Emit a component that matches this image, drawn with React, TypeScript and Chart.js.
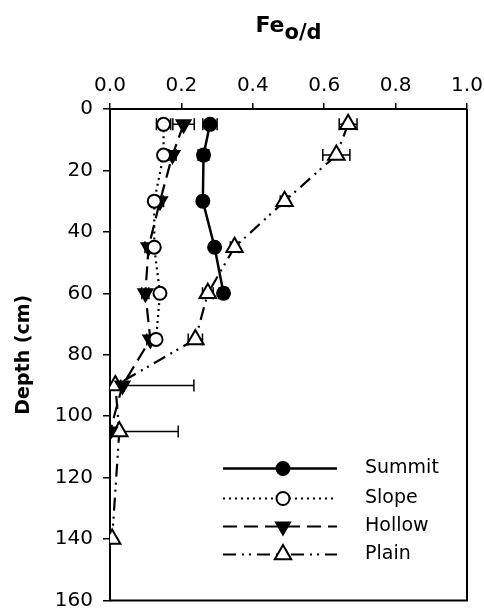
import React, { useEffect, useRef } from 'react';
import { Chart, registerables } from 'chart.js';

Chart.register(...registerables);

// ---- Data ----
const summitDepth = [5, 15, 30, 45, 60];
const summitFe = [0.28, 0.262, 0.26, 0.293, 0.318];
const summitErr = [0.02, 0.015, 0.01, 0.01, 0.012];

const slopeDepth = [5, 15, 30, 45, 60, 75];
const slopeFe = [0.15, 0.15, 0.124, 0.124, 0.14, 0.129];
const slopeErr = [0.02, 0.01, 0.01, 0.008, 0.008, 0.008];

const hollowDepth = [5, 15, 30, 45, 60, 75, 90, 105];
const hollowFe = [0.206, 0.175, 0.14, 0.108, 0.099, 0.113, 0.035, 0.0];
const hollowErr = [0.03, 0.01, 0.01, 0.01, 0.01, 0.01, 0.005, 0.005];

const plainDepth = [5, 15, 30, 45, 60, 75, 90, 105, 140];
const plainFe = [0.667, 0.634, 0.489, 0.349, 0.274, 0.239, 0.015, 0.026, 0.006];
const plainErr = [0.025, 0.038, 0.012, 0.012, 0.015, 0.02, 0.22, 0.165, 0];

const seriesLabels = ['Summit', 'Slope', 'Hollow', 'Plain'];
const xTitleMain = 'Fe';
const xTitleSub = 'o/d';
const yTitle = 'Depth (cm)';

const FONT = '"DejaVu Sans", Verdana, sans-serif';

function pts(xs: number[], ys: number[]) {
  return xs.map((v, i) => ({ x: v, y: ys[i] }));
}

function drawMarker(ctx: CanvasRenderingContext2D, style: string, rot: number, x: number, y: number, r: number, fill: string) {
  ctx.beginPath();
  if (style === 'circle') {
    ctx.arc(x, y, r, 0, Math.PI * 2);
  } else {
    let rad = (rot * Math.PI) / 180;
    ctx.moveTo(x + Math.sin(rad) * r, y - Math.cos(rad) * r);
    rad += (2 * Math.PI) / 3;
    ctx.lineTo(x + Math.sin(rad) * r, y - Math.cos(rad) * r);
    rad += (2 * Math.PI) / 3;
    ctx.lineTo(x + Math.sin(rad) * r, y - Math.cos(rad) * r);
    ctx.closePath();
  }
  ctx.fillStyle = fill;
  ctx.fill();
  ctx.setLineDash([]);
  ctx.lineWidth = 2;
  ctx.strokeStyle = '#000';
  ctx.stroke();
}

const errorBarPlugin = {
  id: 'errorBars',
  beforeDatasetsDraw(chart: any) {
    const { ctx, chartArea } = chart;
    const xs = chart.scales.x;
    const ys = chart.scales.y;
    ctx.save();
    ctx.beginPath();
    ctx.rect(chartArea.left, chartArea.top - 10, chartArea.right - chartArea.left, chartArea.bottom - chartArea.top + 20);
    ctx.clip();
    ctx.strokeStyle = '#000';
    ctx.lineWidth = 1.5;
    ctx.setLineDash([]);
    chart.data.datasets.forEach((ds: any) => {
      const errs: number[] = ds.errors || [];
      ds.data.forEach((p: any, i: number) => {
        const e = errs[i];
        if (!e) return;
        const x1 = xs.getPixelForValue(p.x - e);
        const x2 = xs.getPixelForValue(p.x + e);
        const y = ys.getPixelForValue(p.y);
        ctx.beginPath();
        ctx.moveTo(x1, y);
        ctx.lineTo(x2, y);
        ctx.moveTo(x1, y - 6);
        ctx.lineTo(x1, y + 6);
        ctx.moveTo(x2, y - 6);
        ctx.lineTo(x2, y + 6);
        ctx.stroke();
      });
    });
    ctx.restore();
  },
};

const framePlugin = {
  id: 'frameAndText',
  afterDraw(chart: any) {
    const { ctx, chartArea } = chart;
    ctx.save();
    // frame right & bottom
    ctx.strokeStyle = '#000';
    ctx.lineWidth = 2;
    ctx.setLineDash([]);
    ctx.beginPath();
    ctx.moveTo(chartArea.left, chartArea.bottom);
    ctx.lineTo(chartArea.right, chartArea.bottom);
    ctx.lineTo(chartArea.right, chartArea.top);
    ctx.stroke();

    // x title with subscript
    const cx = (chartArea.left + chartArea.right) / 2;
    ctx.fillStyle = '#000';
    ctx.textBaseline = 'alphabetic';
    ctx.textAlign = 'left';
    ctx.font = `bold 22px ${FONT}`;
    const w1 = ctx.measureText(xTitleMain).width;
    ctx.font = `bold 21px ${FONT}`;
    const w2 = ctx.measureText(xTitleSub).width;
    const sx = cx - (w1 + w2) / 2;
    ctx.font = `bold 22px ${FONT}`;
    ctx.fillText(xTitleMain, sx, 32);
    ctx.font = `bold 21px ${FONT}`;
    ctx.fillText(xTitleSub, sx + w1, 39);

    // legend
    const dss = chart.data.datasets;
    const rowsY = [-132, -102, -74, -46];
    dss.forEach((ds: any, i: number) => {
      const y = chartArea.bottom + rowsY[i];
      const lx1 = chartArea.right - 244;
      const lx2 = chartArea.right - 130;
      ctx.strokeStyle = '#000';
      ctx.lineWidth = ds.borderWidth;
      ctx.setLineDash(ds.borderDash || []);
      ctx.beginPath();
      ctx.moveTo(lx1, y);
      ctx.lineTo(lx2, y);
      ctx.stroke();
      drawMarker(ctx, ds.pointStyle, ds.pointRotation || 0, chartArea.right - 184, y, ds.pointRadius, ds.pointBackgroundColor);
      ctx.fillStyle = '#000';
      ctx.font = `19px ${FONT}`;
      ctx.textBaseline = 'middle';
      ctx.textAlign = 'left';
      ctx.fillText(ds.label, chartArea.right - 102, y);
    });
    ctx.restore();
  },
};

export default function App() {
  const ref = useRef<HTMLCanvasElement>(null);
  useEffect(() => {
    if (!ref.current) return;
    const common = { showLine: true, tension: 0, borderColor: '#000', pointBorderColor: '#000', pointBorderWidth: 2, borderWidth: 2.2 };
    const chart = new Chart(ref.current, {
      type: 'scatter',
      data: {
        datasets: [
          { ...common, label: seriesLabels[0], data: pts(summitFe, summitDepth), errors: summitErr, borderDash: [], pointStyle: 'circle', pointRadius: 6.5, pointBackgroundColor: '#000', borderWidth: 2.5 } as any,
          { ...common, label: seriesLabels[1], data: pts(slopeFe, slopeDepth), errors: slopeErr, borderDash: [2, 4], pointStyle: 'circle', pointRadius: 6.5, pointBackgroundColor: '#fff' } as any,
          { ...common, label: seriesLabels[2], data: pts(hollowFe, hollowDepth), errors: hollowErr, borderDash: [14, 7], pointStyle: 'triangle', pointRotation: 180, pointRadius: 8, pointBackgroundColor: '#000' } as any,
          { ...common, label: seriesLabels[3], data: pts(plainFe, plainDepth), errors: plainErr, borderDash: [13, 6, 2, 5, 2, 6], pointStyle: 'triangle', pointRadius: 9.5, pointBackgroundColor: '#fff' } as any,
        ],
      },
      options: {
        animation: false,
        responsive: false,
        devicePixelRatio: 1,
        layout: { padding: { top: 0, left: 0, right: 17, bottom: 9 } },
        plugins: { legend: { display: false }, tooltip: { enabled: false }, title: { display: false } },
        scales: {
          x: {
            type: 'linear',
            position: 'top',
            min: 0,
            max: 1,
            afterFit: (s: any) => { s.height = 109; s.paddingLeft = 0; s.paddingRight = 0; },
            ticks: { stepSize: 0.2, color: '#000', font: { family: FONT, size: 20 }, padding: 5, callback: (v: any) => Number(v).toFixed(1), maxRotation: 0 },
            grid: { drawOnChartArea: false, drawTicks: true, tickLength: 6, color: '#000', lineWidth: 1.5 },
            border: { display: true, color: '#000', width: 2 },
            title: { display: false },
          },
          y: {
            type: 'linear',
            reverse: true,
            min: 0,
            max: 160,
            afterFit: (s: any) => { s.width = 110; s.paddingTop = 0; s.paddingBottom = 0; },
            ticks: { stepSize: 20, color: '#000', font: { family: FONT, size: 20 }, padding: 10 },
            grid: { drawOnChartArea: false, drawTicks: true, tickLength: 7, color: '#000', lineWidth: 1.5 },
            border: { display: true, color: '#000', width: 2 },
            title: { display: true, text: yTitle, color: '#000', font: { family: FONT, size: 19, weight: 'bold' }, padding: { top: 13, bottom: 0 } },
          },
        },
      } as any,
      plugins: [errorBarPlugin, framePlugin],
    });
    return () => chart.destroy();
  }, []);
  return (
    <div style={{ position: 'absolute', left: 0, top: 0, width: 484, height: 612, background: '#fff' }}>
      <canvas ref={ref} width={484} height={612} style={{ display: 'block' }} />
    </div>
  );
}
